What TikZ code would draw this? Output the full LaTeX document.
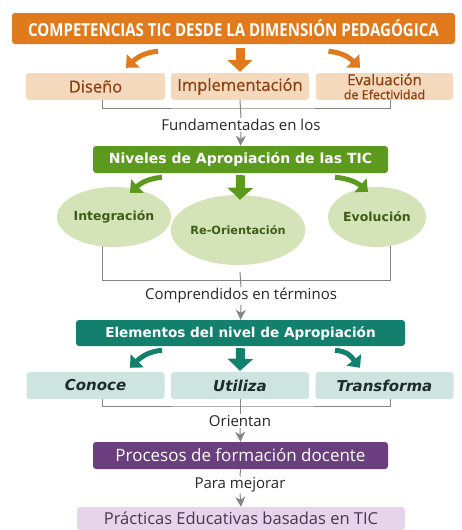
\documentclass[tikz,border=0pt]{standalone}
\usepackage{fontspec}
\setmainfont{Open Sans}
\newfontfamily\titlefont[FakeStretch=0.835]{Open Sans}
\newfontfamily\semifont[FakeBold=0.6]{Open Sans}
\newfontfamily\vfont{DejaVu Sans}
\usetikzlibrary{arrows.meta,bending,backgrounds,shapes.geometric}
\definecolor{orgC}{HTML}{E17A1C}
\definecolor{peachC}{HTML}{F4D9BD}
\definecolor{peachT}{HTML}{8C3F12}
\definecolor{grnC}{HTML}{5C9A1E}
\definecolor{lgrnC}{HTML}{D4E3B8}
\definecolor{grnT}{HTML}{3D5E16}
\definecolor{tealC}{HTML}{13806D}
\definecolor{lteaC}{HTML}{CDE4E0}
\definecolor{teaT}{HTML}{1E2B2B}
\definecolor{purC}{HTML}{6B3F7E}
\definecolor{lpurC}{HTML}{E6D5EA}
\definecolor{purT}{HTML}{4A3552}
\definecolor{grayC}{HTML}{858585}
\begin{document}
\begin{tikzpicture}[x=1pt,y=-1pt,
  box/.style={rectangle, rounded corners=3pt, minimum height=27pt, inner sep=0pt, align=center},
  hdr/.style={box, text=white, minimum width=295pt, font=\vfont\bfseries\fontsize{14}{16}\selectfont},
  row1/.style={box, fill=peachC, text=peachT, font=\semifont\fontsize{16.5}{18}\selectfont},
  row3/.style={box, fill=lteaC, text=teaT, minimum width=138pt, font=\vfont\bfseries\itshape\fontsize{15}{17}\selectfont},
  circ/.style={ellipse, fill=lgrnC, inner sep=0pt, text=grnT, font=\vfont\bfseries\fontsize{12.5}{14}\selectfont},
  lbl/.style={inner sep=1pt, font=\fontsize{15}{17}\selectfont, text=black!85},
  brk/.style={draw=grayC, line width=1pt},
  garr/.style={draw=grayC, line width=1pt, -{Stealth[length=10pt,width=10pt,inset=3pt]}},
  carrow/.style={line width=5pt, -{Triangle[length=10pt,width=18pt,flex]}},
  sarrow/.style={line width=9pt, -{Triangle[length=12pt,width=25pt]}}
]
\clip (0,0) rectangle (461,530);
% title
\node[box, fill=orgC, minimum width=443pt, minimum height=31pt, text=white,
  font=\titlefont\bfseries\fontsize{18}{20}\selectfont] (title) at (233.5,28.5) {COMPETENCIAS TIC DESDE LA DIMENSIÓN PEDAGÓGICA};
% row 1
\node[row1, minimum width=139pt] (dis) at (95.5,86.5) {Diseño};
\node[row1, minimum width=138pt] (imp) at (240,86.5) {Implementación};
\node[row1, minimum width=137pt, font=\semifont\fontsize{15}{15}\selectfont] (eva) at (384.5,86.5) {Evaluación\\[-1pt]{\fontsize{12.5}{13}\selectfont de Efectividad}};
\node[lbl] (l1) at (241,125) {Fundamentadas en los};
% green
\node[hdr, fill=grnC] (niv) at (240.5,159.5) {Niveles de Apropiación de las TIC};
\node[circ, minimum width=98pt, minimum height=60pt] (int) at (114,217) {Integración};
\node[circ, minimum width=110pt, minimum height=70pt, font=\vfont\bfseries\fontsize{11.3}{13}\selectfont] (reo) at (238,230) {Re-Orientación};
\node[circ, minimum width=98pt, minimum height=60pt] (evo) at (377,217) {Evolución};
\node[lbl] (l2) at (241,296) {Comprendidos en términos};
% teal
\node[hdr, fill=tealC, minimum width=329pt, minimum height=26pt, font=\vfont\bfseries\fontsize{13.6}{16}\selectfont] (ele) at (240.5,333) {Elementos del nivel de Apropiación};
\node[row3] (con) at (95.5,385.5) {Conoce};
\node[row3] (uti) at (240,385.5) {Utiliza};
\node[row3] (tra) at (384.5,385.5) {Transforma};
\node[lbl] (l3) at (240,421) {Orientan};
% purple
\node[box, fill=purC, text=white, minimum width=295pt, font=\fontsize{17}{19}\selectfont] (pro) at (240.5,455.5) {Procesos de formación docente};
\node[lbl] (l4) at (240,485) {Para mejorar};
\node[box, fill=lpurC, text=purT, minimum width=328pt, minimum height=23pt, font=\fontsize{16.5}{18}\selectfont] (pra) at (241,518.5) {Prácticas Educativas basadas en TIC};

% brackets
\begin{scope}[on background layer]
\coordinate (b1) at (240,108);
\draw[brk] ([xshift=6.5pt]dis.south) |- (b1) -| ([xshift=5.5pt]eva.south);
\draw[brk] (imp.south) -- (l1.north);
\coordinate (b2) at (240,280);
\draw[brk] (102,230) -- (102,280) -- (390,280) -- (390,230);
\draw[brk] ([yshift=8pt]b2) -- (l2.north);
\coordinate (b3) at (240,406);
\draw[brk] ([xshift=6.5pt]con.south) |- (b3) -| ([xshift=5.5pt]tra.south);
\draw[brk] (uti.south) -- (l3.north);
\draw[brk] (pro.south) -- (l4.north);
\end{scope}
\draw[garr] (l1.south) -- (niv.north);
\draw[garr] (l2.south) -- (ele.north);
\draw[garr] (l3.south) -- (pro.north);
\draw[garr] (l4.south) -- (pra.north);

% orange arrows
\draw[carrow, orgC] ([xshift=-75.5pt,yshift=-7pt]title.south) .. controls +(-18,2) and +(8,-8) .. ([xshift=30.5pt,yshift=5pt]dis.north);
\draw[carrow, orgC] ([xshift=95pt,yshift=-7pt]title.south) .. controls +(18,2) and +(-8,-8) .. ([xshift=-24.5pt,yshift=5pt]eva.north);
\draw[sarrow, orgC] ([xshift=6.5pt,yshift=-4pt]title.south) -- ([yshift=1pt]imp.north);
% green arrows
\draw[carrow, grnC] ([xshift=-78.5pt,yshift=-4pt]niv.south) .. controls +(-18,2) and +(8,-8) .. ([xshift=16pt,yshift=-6pt]int.north);
\draw[carrow, grnC] ([xshift=94.5pt,yshift=-4pt]niv.south) .. controls +(18,2) and +(-8,-8) .. ([xshift=-9pt,yshift=-5pt]evo.north);
\draw[sarrow, grnC] ([yshift=-2pt]niv.south) -- ([xshift=2pt,yshift=-5pt]reo.north);
% teal arrows
\draw[carrow, tealC] ([xshift=-78.5pt,yshift=-4pt]ele.south) .. controls +(-18,2) and +(8,-8) .. ([xshift=34.5pt,yshift=4pt]con.north);
\draw[carrow, tealC] ([xshift=94.5pt,yshift=-4pt]ele.south) .. controls +(18,2) and +(-8,-8) .. ([xshift=-24.5pt,yshift=4pt]tra.north);
\draw[sarrow, tealC] ([yshift=-2pt]ele.south) -- ([yshift=1pt]uti.north);
\end{tikzpicture}
\end{document}
